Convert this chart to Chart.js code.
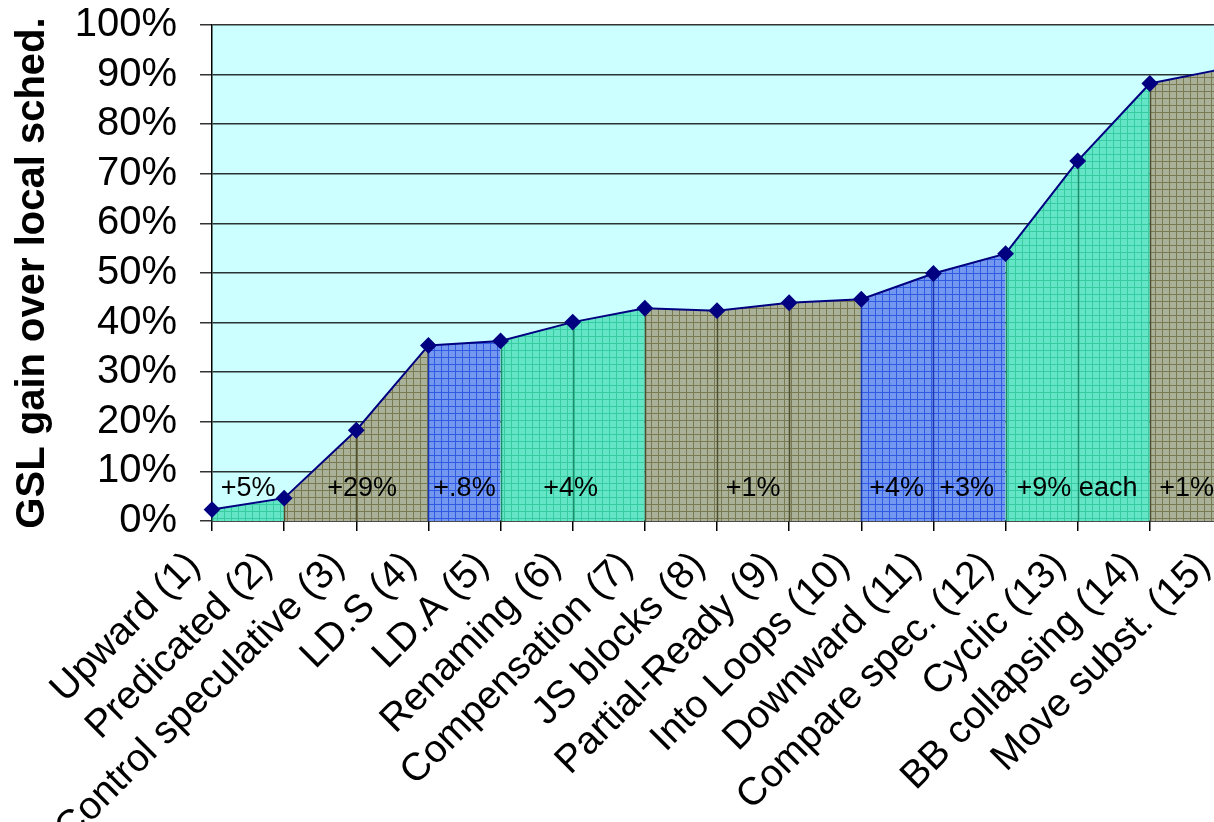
<!DOCTYPE html>
<html>
<head>
<meta charset="utf-8">
<script src="https://cdn.jsdelivr.net/npm/chart.js@4/dist/chart.umd.min.js"></script>
<style>
  html, body { margin: 0; padding: 0; background: #ffffff; overflow: hidden; }
  #wrap { width: 1240px; height: 822px; }
</style>
</head>
<body>
<div id="wrap"><canvas id="c" width="1240" height="822"></canvas></div>
<script>
// ---- data ----
const categories = [
  'Upward (1)', 'Predicated (2)', 'Control speculative (3)', 'LD.S (4)', 'LD.A (5)',
  'Renaming (6)', 'Compensation (7)', 'JS blocks (8)', 'Partial-Ready (9)', 'Into Loops (10)',
  'Downward (11)', 'Compare spec. (12)', 'Cyclic (13)', 'BB collapsing (14)', 'Move subst. (15)'
];
const gain = [2.3, 4.6, 18.3, 35.4, 36.3, 40.1, 42.9, 42.4, 44.0, 44.7, 49.9, 53.9, 72.6, 88.2, 91.1];
const regionStart = [0, 1, 3, 4, 6, 9, 11, 13];
const regionEnd   = [1, 3, 4, 6, 9, 11, 13, 14];
const regionKind  = ['teal', 'olive', 'blue', 'teal', 'olive', 'blue', 'teal', 'olive'];
const noteLabels  = ['+5%', '+29%', '+.8%', '+4%', '+1%', '+4%', '+3%', '+9% each', '+1%'];
const noteAt      = [0.5, 2.08, 3.5, 4.97, 7.5, 9.49, 10.46, 11.99, 13.51];
const noteLevel   = 6.5;
const yTicks      = [0, 10, 20, 30, 40, 50, 60, 70, 80, 90, 100];

// ---- styles ----
const FONT = "'Liberation Sans', Arial, sans-serif";
const palette = {
  teal:  { base: '#64e6c6', line: '#36cba0', drop: '#1f8c6c' },
  olive: { base: '#a9b298', line: '#7a7a52', drop: '#4e4e2c' },
  blue:  { base: '#7498ef', line: '#2f5ae2', drop: '#1a35b0' }
};
function makePattern(kind) {
  const p = palette[kind];
  const t = document.createElement('canvas');
  t.width = 7; t.height = 7;
  const g = t.getContext('2d');
  g.fillStyle = p.base; g.fillRect(0, 0, 7, 7);
  g.fillStyle = p.line;
  g.fillRect(0, 0, 7, 1);
  g.fillRect(0, 0, 1, 7);
  return document.getElementById('c').getContext('2d').createPattern(t, 'repeat');
}

const regionDatasets = regionStart.map((s, r) => ({
  label: 'region' + r,
  data: gain.map((v, i) => (i >= s && i <= regionEnd[r]) ? v : null),
  fill: 'origin',
  backgroundColor: makePattern(regionKind[r]),
  borderWidth: 0,
  borderColor: 'rgba(0,0,0,0)',
  pointRadius: 0,
  pointHoverRadius: 0,
  spanGaps: false,
  tension: 0
}));

function dropKindAt(i) {
  for (let r = 0; r < regionStart.length; r++) {
    if (i >= regionStart[r] && i < regionEnd[r]) return regionKind[r];
  }
  return regionKind[regionKind.length - 1];
}

const bgPlugin = {
  id: 'bg',
  beforeDraw(chart) {
    const { ctx, chartArea: a } = chart;
    ctx.save();
    ctx.fillStyle = '#ccffff';
    ctx.fillRect(a.left, a.top, a.right - a.left, a.bottom - a.top);
    ctx.restore();
  },
  beforeDatasetDraw(chart, args) {
    if (args.index !== 0) return;
    const { ctx } = chart;
    const xs = chart.scales.x, ys = chart.scales.y;
    ctx.save();
    ctx.lineWidth = 1.5;
    gain.forEach((v, i) => {
      const x = Math.round(xs.getPixelForValue(i)) + 0.5;
      ctx.strokeStyle = palette[dropKindAt(i)].drop;
      ctx.beginPath();
      ctx.moveTo(x, ys.getPixelForValue(v));
      ctx.lineTo(x, ys.getPixelForValue(0));
      ctx.stroke();
    });
    ctx.restore();
  },
  afterDatasetsDraw(chart) {
    const { ctx } = chart;
    const xs = chart.scales.x, ys = chart.scales.y;
    ctx.save();
    ctx.font = '27px ' + FONT;
    ctx.fillStyle = '#000000';
    ctx.textAlign = 'center';
    ctx.textBaseline = 'middle';
    noteLabels.forEach((t, k) => {
      ctx.fillText(t, xs.getPixelForValue(noteAt[k]), ys.getPixelForValue(noteLevel));
    });
    ctx.restore();
  }
};

new Chart(document.getElementById('c'), {
  type: 'line',
  data: {
    labels: categories,
    datasets: [
      {
        label: 'GSL gain',
        data: gain,
        fill: false,
        borderColor: '#000080',
        borderWidth: 2,
        pointStyle: 'rectRot',
        pointRadius: 7,
        pointHoverRadius: 7,
        pointBackgroundColor: '#000080',
        pointBorderColor: '#000080',
        tension: 0
      },
      ...regionDatasets
    ]
  },
  options: {
    responsive: false,
    animation: false,
    events: [],
    layout: { padding: { left: 0, right: 18, top: 25, bottom: 0 } },
    plugins: { legend: { display: false }, tooltip: { enabled: false } },
    scales: {
      x: {
        type: 'category',
        offset: false,
        grid: { display: true, drawOnChartArea: false, drawTicks: true, tickLength: 10, color: '#000000', lineWidth: 1.5 },
        border: { display: true, color: '#000000', width: 1.5 },
        ticks: {
          autoSkip: false, minRotation: 45, maxRotation: 45, padding: 12, labelOffset: -18,
          color: '#000000', font: { family: FONT, size: 39 }
        },
        afterFit(scale) { scale.height = 822 - 521; scale.paddingLeft = 0; scale.paddingRight = 0; }
      },
      y: {
        min: 0, max: 100,
        z: 1,
        afterBuildTicks(scale) { scale.ticks = yTicks.map(v => ({ value: v })); },
        grid: { color: 'rgba(0,0,0,0.8)', lineWidth: 1.5, tickLength: 12, drawTicks: true },
        border: { display: true, color: '#000000', width: 1.5 },
        ticks: {
          autoSkip: false, stepSize: 10,
          padding: 23, color: '#000000', font: { family: FONT, size: 40 },
          callback: v => v + '%'
        },
        title: {
          display: true, text: 'GSL gain over local sched.', color: '#000000',
          font: { family: FONT, size: 40, weight: 'bold' }, padding: { top: 9, bottom: 0 }
        },
        afterFit(scale) { scale.width = 212; scale.paddingTop = 0; scale.paddingBottom = 0; }
      }
    }
  },
  plugins: [bgPlugin]
});
</script>
</body>
</html>
